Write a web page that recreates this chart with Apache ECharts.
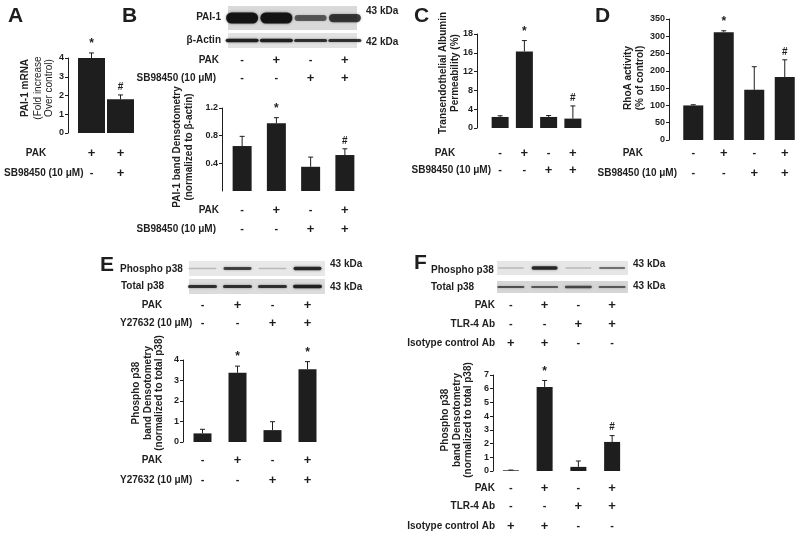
<!DOCTYPE html>
<html><head><meta charset="utf-8">
<script src="https://cdn.jsdelivr.net/npm/echarts@6/dist/echarts.min.js"></script>
<style>html,body{margin:0;padding:0;background:#fff}#c{width:800px;height:535px}</style>
</head><body><div id="c"></div>
<script>
// ---------------- data ----------------
const catsA = ['PAK', 'PAK + SB98450'];
const valsA = [4.0, 1.8];
const errA  = [0.27, 0.23];
const sigA  = ['*', '#'];
const pakA  = ['+', '+'];
const sbA   = ['-', '+'];

const cats4 = ['Control', 'PAK', 'Inhibitor', 'PAK + Inhibitor'];
const valsB = [0.65, 0.98, 0.35, 0.52];
const errB  = [0.14, 0.08, 0.14, 0.09];
const sigB  = ['', '*', '', '#'];
const pakB  = ['-', '+', '-', '+'];
const sbB   = ['-', '-', '+', '+'];

const valsC = [2.35, 16.3, 2.35, 2.0];
const errC  = [0.25, 2.3, 0.3, 2.7];
const sigC  = ['', '*', '', '#'];
const ticksC = ['0', '4', '8', '12', '16', '18'];

const valsD = [100, 312, 145, 182];
const errD  = [2, 4, 67, 50];
const sigD  = ['', '*', '', '#'];

const valsE = [0.42, 3.38, 0.58, 3.55];
const errE  = [0.2, 0.32, 0.41, 0.37];
const sigE  = ['', '*', '', '*'];
const pakE  = ['-', '+', '-', '+'];
const yE    = ['-', '-', '+', '+'];

const valsF = [0.05, 6.13, 0.3, 2.12];
const errF  = [0.02, 0.47, 0.43, 0.46];
const sigF  = ['', '*', '', '#'];
const pakF  = ['-', '+', '-', '+'];
const tlrF  = ['-', '-', '+', '+'];
const isoF  = ['+', '+', '-', '-'];

// western blot band strengths (0..1)
const blotB_PAI1  = [1.0, 1.0, 0.55, 0.75];
const blotB_actin = [0.9, 0.9, 0.8, 0.8];
const blotE_phos  = [0.08, 0.7, 0.08, 0.85];
const blotE_total = [0.8, 0.8, 0.8, 0.9];
const blotF_phos  = [0.08, 0.85, 0.08, 0.45];
const blotF_total = [0.6, 0.55, 0.65, 0.55];

// ---------------- layout ----------------
const FONT = '"Liberation Sans", Arial, Helvetica, sans-serif';
const INK = '#1e1e1e';
const panels = [
  {cats: catsA, vals: valsA, err: errA, sig: sigA, max: 4, interval: 1, grid: {left: 77, top: 58, width: 58, height: 75}, offset: 9, bw: 27},
  {cats: cats4, vals: valsB, err: errB, sig: sigB, max: 1.2, interval: 0.4, grid: {left: 225, top: 108, width: 137, height: 83}, offset: 3, bw: 19, hideMin: true},
  {cats: cats4, vals: valsC, err: errC, sig: sigC, max: 20, interval: 4, grid: {left: 488, top: 34, width: 97, height: 94}, offset: 11, bw: 17, ticks: ticksC},
  {cats: cats4, vals: valsD, err: errD, sig: sigD, max: 350, interval: 50, grid: {left: 678, top: 19, width: 124, height: 121}, offset: 9, bw: 20},
  {cats: cats4, vals: valsE, err: errE, sig: sigE, max: 4, interval: 1, grid: {left: 185, top: 360, width: 140, height: 82}, offset: 2, bw: 18},
  {cats: cats4, vals: valsF, err: errF, sig: sigF, max: 7, interval: 1, grid: {left: 494, top: 375, width: 135, height: 96}, offset: 1, bw: 16}
];

const chart = echarts.init(document.getElementById('c'), null, {renderer: 'canvas'});

const option = {
  animation: false,
  backgroundColor: '#fff',
  grid: panels.map(p => Object.assign({}, p.grid)),
  xAxis: panels.map((p, i) => ({type: 'category', gridIndex: i, data: p.cats, show: false})),
  yAxis: panels.map((p, i) => ({
    type: 'value', gridIndex: i, min: 0, max: p.max, interval: p.interval, offset: p.offset,
    axisLine: {show: true, lineStyle: {color: INK, width: 1}},
    axisTick: {show: true, length: 3, lineStyle: {color: INK, width: 1}},
    splitLine: {show: false},
    axisLabel: {
      color: INK, fontSize: 9, fontWeight: 'bold', fontFamily: FONT, margin: 4,
      showMinLabel: !p.hideMin,
      formatter: p.ticks ? ((v, idx) => p.ticks[idx]) : (v => String(+v.toFixed(1)))
    }
  })),
  series: []
};

panels.forEach((p, i) => {
  option.series.push({
    type: 'bar', xAxisIndex: i, yAxisIndex: i, data: p.vals, barWidth: p.bw,
    itemStyle: {color: INK}, silent: true
  });
  option.series.push({
    type: 'custom', xAxisIndex: i, yAxisIndex: i, silent: true, z: 3,
    data: p.vals.map((v, j) => [j, v, p.err[j]]),
    renderItem: (params, api) => {
      const x = api.value(0), v = api.value(1), e = api.value(2);
      const b = api.coord([x, v]), t = api.coord([x, v + e]);
      const kids = [
        {type: 'line', shape: {x1: b[0], y1: b[1], x2: t[0], y2: t[1]}, style: {stroke: INK, lineWidth: 1}},
        {type: 'line', shape: {x1: t[0] - 2.5, y1: t[1], x2: t[0] + 2.5, y2: t[1]}, style: {stroke: INK, lineWidth: 1}}
      ];
      const s = p.sig[params.dataIndex];
      if (s) kids.push({type: 'text', x: t[0], y: t[1] - 3, style: {
        text: s, fill: INK, fontSize: s === '*' ? 12 : 10, fontWeight: 'bold', fontFamily: FONT,
        align: 'center', verticalAlign: 'bottom'}});
      return {type: 'group', children: kids};
    }
  });
});

chart.setOption(option);

// ---------------- annotations ----------------
const G = [];
function txt(x, y, text, align, opts) {
  opts = opts || {};
  G.push({type: 'text', x: x, y: y, rotation: opts.rot || 0, silent: true, style: {
    text: text, fill: opts.color || INK, fontSize: opts.size || 10,
    fontWeight: opts.weight || 'bold', fontFamily: FONT,
    align: align || 'left', verticalAlign: 'middle'}});
}
function laneX(i, j) { return chart.convertToPixel({xAxisIndex: i}, j); }
function signRow(i, y, signs) {
  signs.forEach((s, j) => txt(laneX(i, j), y, s, 'center', {size: s === '+' ? 13 : 11}));
}
function vtitle(x, y, text, weight) { txt(x, y, text, 'center', {rot: Math.PI / 2, weight: weight || 'bold'}); }
function blot(i, box, bg, bands, bw, bh) {
  G.push({type: 'rect', silent: true, shape: {x: box[0], y: box[1], width: box[2], height: box[3]},
    style: {fill: bg}});
  const cy = box[1] + box[3] / 2;
  bands.forEach((a, j) => {
    const cx = laneX(i, j);
    const h = Math.max(1.5, bh * a);
    G.push({type: 'rect', silent: true,
      shape: {x: cx - bw / 2, y: cy - h / 2, width: bw, height: h, r: h / 2},
      style: {fill: 'rgba(15,15,15,' + (0.15 + 0.8 * a).toFixed(2) + ')', shadowBlur: 2.5, shadowColor: 'rgba(0,0,0,' + (0.6 * a).toFixed(2) + ')'}});
  });
}

// panel letters
[['A', 8, 16], ['B', 122, 16], ['C', 414, 16], ['D', 595, 16], ['E', 100, 265], ['F', 414, 263]]
  .forEach(l => txt(l[1], l[2], l[0], 'left', {size: 21}));

// A
vtitle(25, 88, 'PAI-1 mRNA', 'bold');
vtitle(38, 88, '(Fold increase', 'normal');
vtitle(49, 88, 'Over control)', 'normal');
txt(36, 153, 'PAK', 'center'); signRow(0, 153, pakA);
txt(4, 173, 'SB98450 (10 μM)', 'left'); signRow(0, 173, sbA);

// B
blot(1, [228, 6, 129, 24], '#d9d9d9', blotB_PAI1, 32, 11);
blot(1, [228, 33, 129, 15], '#e2e2e2', blotB_actin, 33, 4);
txt(221, 17, 'PAI-1', 'right'); txt(221, 40, 'β-Actin', 'right');
txt(366, 11, '43 kDa', 'left'); txt(366, 42, '42 kDa', 'left');
txt(219, 60, 'PAK', 'right'); signRow(1, 60, pakB);
txt(216, 78, 'SB98450 (10 μM)', 'right'); signRow(1, 78, sbB);
vtitle(177, 147, 'PAI-1 band Densotometry');
vtitle(189, 147, '(normalized to β-actin)');
txt(219, 210, 'PAK', 'right'); signRow(1, 210, pakB);
txt(216, 229, 'SB98450 (10 μM)', 'right'); signRow(1, 229, sbB);

// C
vtitle(443, 73, 'Transendothelial Albumin');
vtitle(455, 73, 'Permeability (%)');
txt(445, 153, 'PAK', 'center'); signRow(2, 153, pakB);
txt(491, 170, 'SB98450 (10 μM)', 'right'); signRow(2, 170, sbB);

// D
vtitle(628, 78, 'RhoA activity');
vtitle(640, 78, '(% of control)');
txt(643, 153, 'PAK', 'right'); signRow(3, 153, pakB);
txt(677, 173, 'SB98450 (10 μM)', 'right'); signRow(3, 173, sbB);

// E
blot(4, [189, 261, 136, 15], '#e8e8e8', blotE_phos, 28, 4);
blot(4, [189, 279, 136, 15], '#dcdcdc', blotE_total, 29, 4);
txt(120, 269, 'Phospho p38', 'left'); txt(121, 286, 'Total p38', 'left');
txt(330, 264, '43 kDa', 'left'); txt(330, 287, '43 kDa', 'left');
txt(152, 305, 'PAK', 'center'); signRow(4, 305, pakE);
txt(120, 323, 'Y27632 (10 μM)', 'left'); signRow(4, 323, yE);
vtitle(136, 393, 'Phospho p38');
vtitle(148, 393, 'band Densotometry');
vtitle(159, 393, '(normalized to total p38)');
txt(152, 460, 'PAK', 'center'); signRow(4, 460, pakE);
txt(120, 480, 'Y27632 (10 μM)', 'left'); signRow(4, 480, yE);

// F
blot(5, [497, 261, 131, 14], '#e6e6e6', blotF_phos, 26, 4);
blot(5, [497, 281, 131, 12], '#d6d6d6', blotF_total, 27, 3.5);
txt(431, 270, 'Phospho p38', 'left'); txt(431, 287, 'Total p38', 'left');
txt(633, 264, '43 kDa', 'left'); txt(633, 286, '43 kDa', 'left');
txt(495, 305, 'PAK', 'right'); signRow(5, 305, pakF);
txt(495, 324, 'TLR-4 Ab', 'right'); signRow(5, 324, tlrF);
txt(495, 343, 'Isotype control Ab', 'right'); signRow(5, 343, isoF);
vtitle(445, 420, 'Phospho p38');
vtitle(457, 420, 'band Densotometry');
vtitle(468, 420, '(normalized to total p38)');
txt(495, 488, 'PAK', 'right'); signRow(5, 488, pakF);
txt(495, 506, 'TLR-4 Ab', 'right'); signRow(5, 506, tlrF);
txt(495, 526, 'Isotype control Ab', 'right'); signRow(5, 526, isoF);

chart.setOption({graphic: {elements: G}});
</script></body></html>
